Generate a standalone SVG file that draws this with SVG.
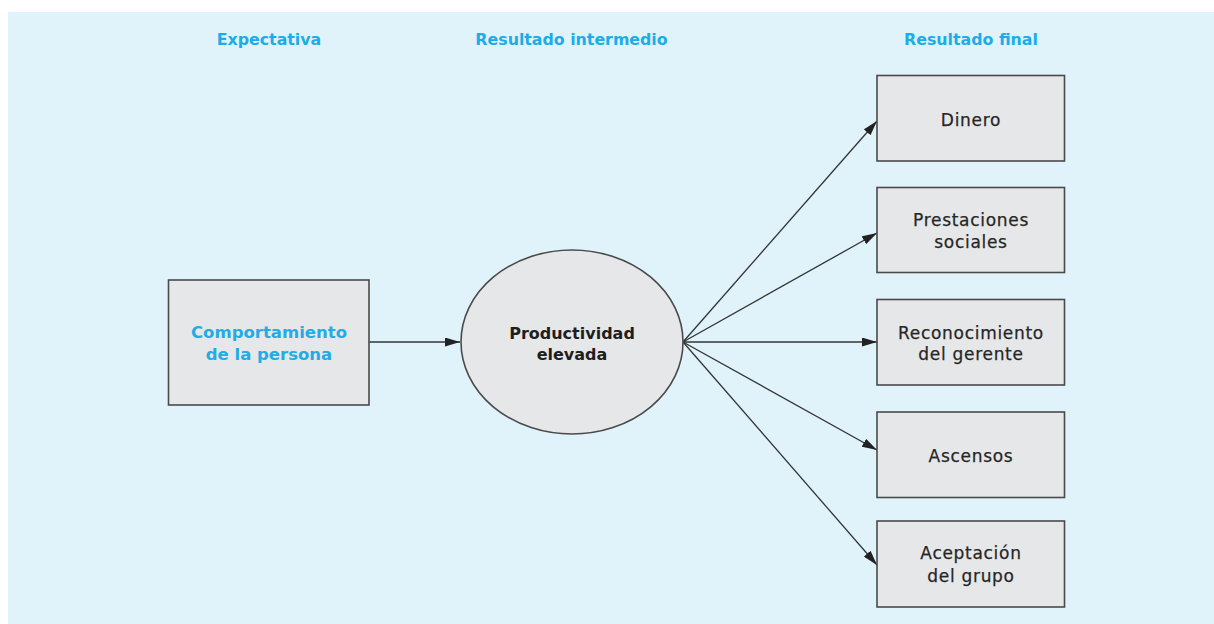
<svg xmlns="http://www.w3.org/2000/svg" width="1214" height="624" viewBox="0 0 1214 624">
<defs>
<style>
.hdr{font-family:"DejaVu Sans",sans-serif;font-weight:bold;font-size:15.8px;fill:#1aade9;text-anchor:middle}
.box{fill:#e6e7e9;stroke:#4a4a4a;stroke-width:1.6}
.lbl{font-family:"DejaVu Sans",sans-serif;font-size:17px;fill:#262626;text-anchor:middle;letter-spacing:0.7px;stroke:#262626;stroke-width:0.25}
.blue{font-family:"DejaVu Sans",sans-serif;font-weight:bold;font-size:16.5px;fill:#22ace6;text-anchor:middle}
.dark{font-family:"DejaVu Sans",sans-serif;font-weight:bold;font-size:16px;fill:#1e1e1e;text-anchor:middle}
.con{stroke:#333;stroke-width:1.3;fill:none;marker-end:url(#ah)}
</style>
<marker id="ah" viewBox="0 0 15 9" refX="15" refY="4.5" markerWidth="15" markerHeight="9" markerUnits="userSpaceOnUse" orient="auto">
<path d="M0,0 L15,4.5 L0,9 Z" fill="#222"/>
</marker>
</defs>
<rect x="8" y="12" width="1206" height="612" fill="#e0f3fb"/>
<g id="headers">
<text class="hdr" x="269" y="45">Expectativa</text>
<text class="hdr" x="571.5" y="45">Resultado intermedio</text>
<text class="hdr" x="971" y="45">Resultado final</text>
</g>
<g id="connectors">
<line class="con" x1="369" y1="342" x2="460" y2="342"/>
<line class="con" x1="683" y1="342" x2="877" y2="121"/>
<line class="con" x1="683" y1="342" x2="877" y2="233"/>
<line class="con" x1="683" y1="342" x2="877" y2="342"/>
<line class="con" x1="683" y1="342" x2="877" y2="450"/>
<line class="con" x1="683" y1="342" x2="877" y2="565"/>
</g>
<g id="comportamiento">
<rect class="box" x="168.5" y="280" width="200.5" height="125"/>
<text class="blue" x="269" y="338">Comportamiento</text>
<text class="blue" x="269" y="360">de la persona</text>
</g>
<g id="productividad">
<ellipse class="box" cx="572" cy="342" rx="111" ry="92"/>
<text class="dark" x="572" y="339">Productividad</text>
<text class="dark" x="572" y="360">elevada</text>
</g>
<g id="dinero">
<rect class="box" x="877" y="75.5" width="187.5" height="85.5"/>
<text class="lbl" x="971" y="126">Dinero</text>
</g>
<g id="prestaciones">
<rect class="box" x="877" y="187.5" width="187.5" height="85"/>
<text class="lbl" x="971" y="226">Prestaciones</text>
<text class="lbl" x="971" y="248">sociales</text>
</g>
<g id="reconocimiento">
<rect class="box" x="877" y="299.5" width="187.5" height="85.5"/>
<text class="lbl" x="971" y="339">Reconocimiento</text>
<text class="lbl" x="971" y="360">del gerente</text>
</g>
<g id="ascensos">
<rect class="box" x="877" y="412" width="187.5" height="85.5"/>
<text class="lbl" x="971" y="462">Ascensos</text>
</g>
<g id="aceptacion">
<rect class="box" x="877" y="521" width="187.5" height="86"/>
<text class="lbl" x="971" y="559">Aceptación</text>
<text class="lbl" x="971" y="582">del grupo</text>
</g>
</svg>
